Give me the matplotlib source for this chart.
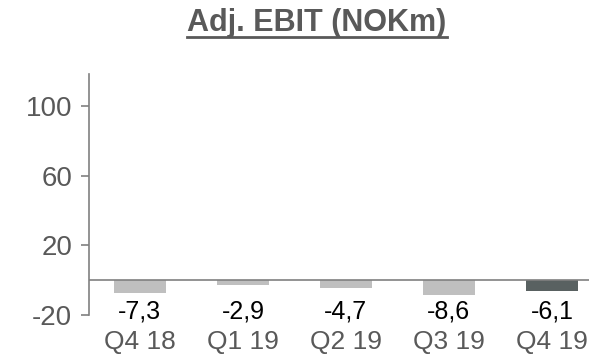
import matplotlib
matplotlib.use("Agg")
import matplotlib.pyplot as plt
from matplotlib.lines import Line2D

plt.rcParams["font.family"] = ["Liberation Sans", "DejaVu Sans"]

quarters = ["Q4 18", "Q1 19", "Q2 19", "Q3 19", "Q4 19"]
ebit = [-7.3, -2.9, -4.7, -8.6, -6.1]
bar_colors = ["#BFBFBF", "#BFBFBF", "#BFBFBF", "#BFBFBF", "#596161"]
yticks = [-20, 20, 60, 100]

GRAY_TXT = "#595959"
AXIS = "#808080"

fig = plt.figure(figsize=(5.89, 3.57), dpi=100)
ax = fig.add_axes([0.151, 0.118, 0.849, 0.675])

x = list(range(len(quarters)))
ax.bar(x, ebit, width=0.505, color=bar_colors, zorder=2)
ax.axhline(0, color=AXIS, linewidth=1.2, zorder=3)

# value labels sit just under the zero line
for xi, v in zip(x, ebit):
    ax.text(xi, -17.8, f"{v:.1f}".replace(".", ","), ha="center", va="center",
            fontsize=18, color="black")

ax.set_xlim(-0.495, 4.36)
ax.set_ylim(-20, 118.5)
ax.set_yticks(yticks)
ax.set_yticklabels([str(t) for t in yticks], fontsize=20, color=GRAY_TXT)
ax.set_xticks(x)
ax.set_xticklabels(quarters, fontsize=19, color=GRAY_TXT)
ax.tick_params(axis="x", length=0, pad=11)
ax.tick_params(axis="y", length=6, width=1.2, color=AXIS, pad=6)

for s in ["top", "right", "bottom"]:
    ax.spines[s].set_visible(False)
ax.spines["left"].set_color(AXIS)
ax.spines["left"].set_linewidth(1.2)

title = fig.text(0.538, 0.935, "Adj. EBIT (NOKm)", ha="center", va="center",
                 fontsize=22, fontweight="bold", color=GRAY_TXT)

# underline the title
fig.canvas.draw()
bb = title.get_window_extent(fig.canvas.get_renderer()).transformed(fig.transFigure.inverted())
fig.add_artist(Line2D([bb.x0, bb.x1], [bb.y0 + 0.004, bb.y0 + 0.004],
                      transform=fig.transFigure, color=GRAY_TXT, linewidth=2))

fig.savefig("out.png", dpi=100)
